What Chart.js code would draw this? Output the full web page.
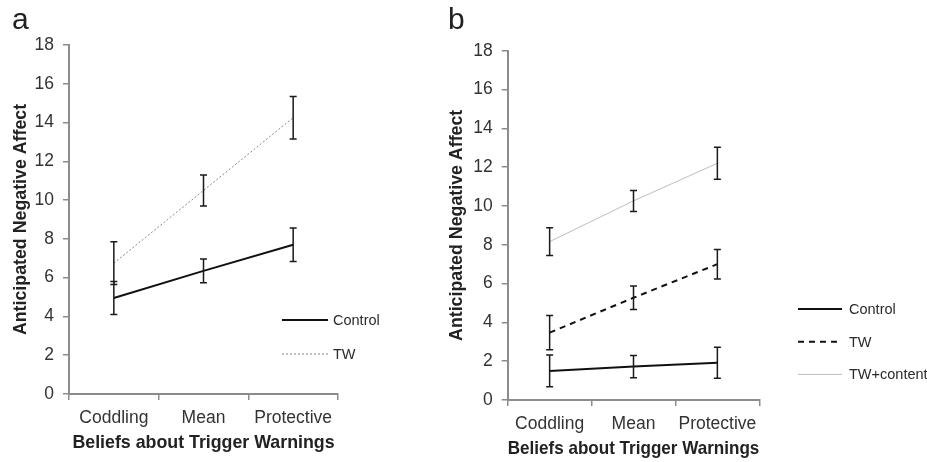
<!DOCTYPE html>
<html>
<head>
<meta charset="utf-8">
<script src="https://cdn.jsdelivr.net/npm/chart.js@4"></script>
<style>
  body { margin: 0; background: #fff; width: 927px; height: 462px; position: relative; overflow: hidden; font-family: "Liberation Sans", Arial, sans-serif; }
  .wrap { position: absolute; top: 0; height: 462px; }
  #wrapA { left: 0; width: 440px; }
  #wrapB { left: 440px; width: 487px; }
  .panel { position: absolute; font-size: 30px; line-height: 30px; color: #222; }
</style>
</head>
<body>
<div class="wrap" id="wrapA"><canvas id="chartA" width="440" height="462"></canvas></div>
<div class="wrap" id="wrapB"><canvas id="chartB" width="487" height="462"></canvas></div>
<div class="panel" style="left:12px; top:4px;">a</div>
<div class="panel" style="left:448px; top:4px;">b</div>
<script>
// Data
const categories = ['Coddling', 'Mean', 'Protective'];
const yTickValues = [0, 2, 4, 6, 8, 10, 12, 14, 16, 18];

// panel a
const aControl = [4.95, 6.35, 7.7];
const aControlErr = [0.85, 0.61, 0.86];
const aTW = [6.75, 10.5, 14.25];
const aTWErr = [1.1, 0.8, 1.1];

// panel b
const bControl = [1.5, 1.72, 1.92];
const bControlErr = [0.82, 0.57, 0.8];
const bTW = [3.47, 5.27, 7.0];
const bTWErr = [0.88, 0.6, 0.76];
const bTWContent = [8.16, 10.26, 12.2];
const bTWContentErr = [0.72, 0.54, 0.83];

const FONT = '"Liberation Sans", Arial, sans-serif';
const axisGrey = '#8c8c8c';

// error bars drawn through the scales
const errorBarPlugin = {
    id: 'errorBars',
    afterDatasetsDraw(chart) {
        const ctx = chart.ctx;
        const xs = chart.scales.x, ys = chart.scales.y;
        chart.data.datasets.forEach(ds => {
            if (!ds.errors) return;
            ctx.save();
            ctx.strokeStyle = '#1a1a1a';
            ctx.lineWidth = 1.5;
            ds.data.forEach((v, i) => {
                const px = xs.getPixelForValue(i);
                const top = ys.getPixelForValue(v + ds.errors[i]);
                const bot = ys.getPixelForValue(v - ds.errors[i]);
                ctx.beginPath();
                ctx.moveTo(px, top); ctx.lineTo(px, bot);
                ctx.moveTo(px - 3.5, top); ctx.lineTo(px + 3.5, top);
                ctx.moveTo(px - 3.5, bot); ctx.lineTo(px + 3.5, bot);
                ctx.stroke();
            });
            ctx.restore();
        });
    }
};

// simple legend: sample line + label, stacked
const sideLegendPlugin = {
    id: 'sideLegend',
    afterDraw(chart, args, opts) {
        if (!opts || opts.x0 === undefined) return;
        const ctx = chart.ctx;
        ctx.save();
        chart.data.datasets.forEach((ds, i) => {
            const y = opts.y + i * opts.gap;
            ctx.strokeStyle = ds.borderColor;
            ctx.lineWidth = ds.borderWidth;
            ctx.setLineDash(ds.borderDash || []);
            ctx.beginPath();
            ctx.moveTo(opts.x0, y);
            ctx.lineTo(opts.x1, y);
            ctx.stroke();
            ctx.setLineDash([]);
            ctx.fillStyle = '#2a2a2a';
            ctx.font = '14.5px ' + FONT;
            ctx.textBaseline = 'middle';
            ctx.textAlign = 'left';
            ctx.fillText(ds.label, opts.textX, y + 1);
        });
        ctx.restore();
    }
};

function makeChart(id, datasets, cfg) {
    return new Chart(document.getElementById(id), {
        type: 'line',
        data: { labels: categories, datasets: datasets },
        options: {
            responsive: false,
            animation: false,
            layout: { padding: cfg.padding },
            elements: { point: { radius: 0 }, line: { tension: 0 } },
            plugins: {
                legend: { display: false },
                tooltip: { enabled: false },
                sideLegend: cfg.legend
            },
            scales: {
                x: {
                    offset: true,
                    grid: { offset: true, drawOnChartArea: false, tickLength: 6, color: axisGrey, lineWidth: 1.5 },
                    border: { color: axisGrey, width: 2 },
                    ticks: { color: '#333', font: { family: FONT, size: 17.5 }, padding: 8, maxRotation: 0 },
                    title: { display: true, text: 'Beliefs about Trigger Warnings', color: '#222',
                             font: { family: FONT, size: 17.8, weight: 'bold' }, padding: { top: 0, bottom: 0 } },
                    afterFit: s => { s.height = 60; }
                },
                y: {
                    min: 0, max: 18,
                    afterBuildTicks: s => { s.ticks = yTickValues.map(v => ({ value: v })); },
                    grid: { drawOnChartArea: false, tickLength: 6, color: axisGrey, lineWidth: 1.5 },
                    border: { color: axisGrey, width: 2 },
                    ticks: { color: '#333', font: { family: FONT, size: 17.5 }, padding: 9 },
                    title: { display: true, text: 'Anticipated Negative Affect', color: '#222',
                             font: { family: FONT, size: 17.8, weight: 'bold' }, padding: { top: cfg.titlePad, bottom: 0 } },
                    afterFit: s => { s.width = cfg.yWidth; }
                }
            }
        },
        plugins: [errorBarPlugin, sideLegendPlugin]
    });
}

makeChart('chartA', [
    { label: 'Control', data: aControl, errors: aControlErr, borderColor: '#111', borderWidth: 2 },
    { label: 'TW', data: aTW, errors: aTWErr, borderColor: '#888', borderWidth: 1, borderDash: [2, 2] }
], {
    padding: { left: 5, right: 102, top: 45, bottom: 8 },
    yWidth: 64,
    titlePad: 5,
    legend: { x0: 282, x1: 328, textX: 333, y: 320, gap: 34 }
});

makeChart('chartB', [
    { label: 'Control', data: bControl, errors: bControlErr, borderColor: '#111', borderWidth: 2 },
    { label: 'TW', data: bTW, errors: bTWErr, borderColor: '#111', borderWidth: 2, borderDash: [6, 5] },
    { label: 'TW+content', data: bTWContent, errors: bTWContentErr, borderColor: '#bdbdbd', borderWidth: 1 }
], {
    padding: { left: 5, right: 167.7, top: 50.7, bottom: 2 },
    yWidth: 62.7,
    titlePad: 1,
    legend: { x0: 358, x1: 402, textX: 409, y: 309, gap: 32.7 }
});
</script>
</body>
</html>
